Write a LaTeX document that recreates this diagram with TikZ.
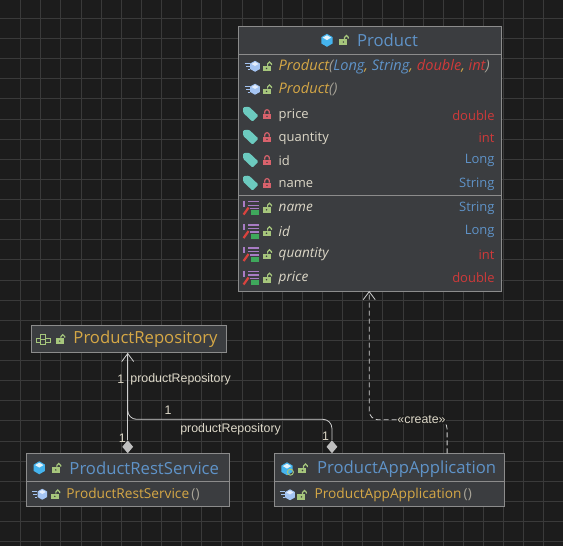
\documentclass[tikz,border=0pt]{standalone}
\usepackage{fontspec}
\setmainfont{Open Sans}
\newfontfamily\edgefont{Liberation Sans}
\usetikzlibrary{shapes.geometric,arrows.meta}
\definecolor{canvas}{HTML}{1C1C1C}
\definecolor{gridline}{HTML}{3A3A3A}
\definecolor{boxfill}{HTML}{3B3D40}
\definecolor{boxline}{HTML}{8C8C8C}
\definecolor{typeblue}{HTML}{5F93C8}
\definecolor{nameorange}{HTML}{D6A846}
\definecolor{typered}{HTML}{D03A3A}
\definecolor{fieldtext}{HTML}{DDD8C8}
\definecolor{parentext}{HTML}{A8A498}
\definecolor{edgeline}{HTML}{D0D0D0}
\definecolor{cubeblue}{HTML}{45B4EE}
\definecolor{cubepale}{HTML}{A4C4F2}
\definecolor{lockgreen}{HTML}{A6C67C}
\definecolor{lockred}{HTML}{D9626C}
\definecolor{tagteal}{HTML}{6CCABF}
\definecolor{propviolet}{HTML}{A87CC4}
\definecolor{propred}{HTML}{D8433E}
\definecolor{propgreen}{HTML}{3FA85C}
\tikzstyle{block} = [draw=boxline, fill=boxfill, rectangle, line width=.9pt, inner sep=0]
\tikzstyle{title} = [anchor=west, inner sep=0, font=\fontsize{16.7}{18}\selectfont]
\tikzstyle{member} = [anchor=west, inner sep=0, font=\fontsize{13.7}{15}\selectfont]
\tikzstyle{ctor} = [anchor=west, inner sep=0, text=nameorange, font=\fontsize{14.6}{15}\selectfont\itshape]
\tikzstyle{field} = [anchor=west, inner sep=0, text=fieldtext, font=\fontsize{13}{15}\selectfont]
\tikzstyle{prop} = [anchor=west, inner sep=0, text=fieldtext, font=\fontsize{13.6}{15}\selectfont\itshape]
\tikzstyle{kind} = [anchor=east, inner sep=0, font=\fontsize{13}{15}\selectfont]
\tikzstyle{edgelabel} = [inner sep=0, text=fieldtext, font=\edgefont\fontsize{12.4}{14}\selectfont]
\tikzstyle{ownerdiamond} = [draw=none, fill=lightgray, diamond, inner sep=0, minimum width=11pt, minimum height=13pt]
\tikzstyle{assoc} = [draw=edgeline, line width=.8pt, rounded corners=9pt]
\tikzstyle{depend} = [assoc, dashed, dash pattern=on 5pt off 3pt]
\tikzset{
  cubeicon/.pic={
    \fill[cubeblue] (0,-6.5)--(5.6,-3.2)--(5.6,3.2)--(0,6.5)--(-5.6,3.2)--(-5.6,-3.2)--cycle;
    \fill[white!85!cubeblue] (0,-5)--(4.2,-2.7)--(0,-.2)--(-4.2,-2.7)--cycle;
  },
  appicon/.pic={
    \fill[cubeblue] (0,-6.5)--(5.6,-3.2)--(5.6,3.2)--(0,6.5)--(-5.6,3.2)--(-5.6,-3.2)--cycle;
    \fill[white!85!cubeblue] (0,-5)--(4.2,-2.7)--(0,-.2)--(-4.2,-2.7)--cycle;
    \draw[lockgreen, line width=1pt] (3.4,3.4) circle (3);
  },
  ctoricon/.pic={
    \fill[cubepale] (3.5,-5.5)--(8.3,-2.8)--(8.3,2.8)--(3.5,5.5)--(-1.3,2.8)--(-1.3,-2.8)--cycle;
    \fill[white!70!cubepale] (3.5,-4.2)--(7,-2.3)--(3.5,-.3)--(0,-2.3)--cycle;
    \draw[cubepale, line width=1pt] (-7,-3)--(-2,-3) (-5.5,0)--(-2,0) (-4,3)--(-2,3);
  },
  lockopen/.pic={
    \fill[lockgreen] (-4.5,-.5) rectangle (3.5,5);
    \draw[lockgreen, line width=1.2pt] (.6,-.5)--(.6,-2.4) arc[start angle=180, end angle=360, radius=1.9]--(4.4,-1.2);
    \fill[boxfill] (-.5,2.2) circle (.8);
  },
  lockshut/.pic={
    \fill[lockred] (-4.2,-.5) rectangle (4.2,5);
    \draw[lockred, line width=1.2pt] (-2.3,-.5)--(-2.3,-2.2) arc[start angle=180, end angle=360, radius=2.3]--(2.3,-.5);
    \fill[boxfill] (0,2.2) circle (.8);
  },
  tagicon/.pic={
    \fill[tagteal, rounded corners=1.2pt] (-8,-7)--(-2,-7.5)--(7.5,1.5)--(1.5,7.5)--(-8,-1.5)--cycle;
  },
  propicon/.pic={
    \draw[propviolet, line width=1.2pt] (-3,-6)--(8,-6) (-3,-2.5)--(8,-2.5) (-1,1)--(8,1) (-7,-7)--(-7,-1);
    \draw[propred, line width=2.2pt] (-7.5,7)--(-2.5,0);
    \fill[propgreen] (0,2.5) rectangle (8,7.5);
  },
  ifaceicon/.pic={
    \draw[lockgreen, line width=1.1pt] (-2.5,-5) rectangle (2.5,0) (-7,-1) rectangle (-2.5,3.5) (-2.5,0) rectangle (2.5,5) (2.5,-1) rectangle (7,3.5);
  }
}

\begin{document}
\begin{tikzpicture}[x=1pt, y=-1pt, >={Straight Barb[length=8pt,width=12pt]}]
    \fill [canvas] (0,0) rectangle (563,546);
    \foreach \k in {1,...,27} \draw [gridline, line width=.7pt] (20.15*\k,0) -- (20.15*\k,546);
    \foreach \k in {0,...,26} \draw [gridline, line width=.7pt] (0,18+20.15*\k) -- (563,18+20.15*\k);

    \node [block, minimum width=263.5pt, minimum height=265pt] (product) at (370.25,158.5) {};
    \draw [boxline, line width=.9pt] (product.west |- 0,54.5) -- (product.east |- 0,54.5);
    \draw [boxline, line width=.9pt] (product.west |- 0,195.5) -- (product.east |- 0,195.5);
    \pic at (327,40) {cubeicon};
    \pic at (344,39.5) {lockopen};
    \node [title, text=typeblue] (productTitle) at (357,40) {Product};

    \pic at (251.5,66) {ctoricon};
    \pic at (267,66) {lockopen};
    \node [ctor] (ctorFull) at (278.5,66) {Product\textcolor{parentext}{(}\textcolor{typeblue}{Long}, \textcolor{typeblue}{String}, \textcolor{typered}{double}, \textcolor{typered}{int}\textcolor{parentext}{)}};
    \pic at (251.5,89) {ctoricon};
    \pic at (267,89) {lockopen};
    \node [ctor] (ctorEmpty) at (278.5,89) {Product\textcolor{parentext}{()}};

    \pic at (251,114) {tagicon};
    \pic at (267,114) {lockshut};
    \node [field] (fieldPrice) at (278.5,115) {price};
    \node [kind, text=typered] (fieldPriceType) at (495,115) {double};
    \pic at (251,137) {tagicon};
    \pic at (267,137) {lockshut};
    \node [field] (fieldQuantity) at (278.5,138) {quantity};
    \node [kind, text=typered] (fieldQuantityType) at (495,138) {int};
    \pic at (251,160) {tagicon};
    \pic at (267,160) {lockshut};
    \node [field] (fieldId) at (278.5,160.5) {id};
    \node [kind, text=typeblue] (fieldIdType) at (495,160.5) {Long};
    \pic at (251,183) {tagicon};
    \pic at (267,183) {lockshut};
    \node [field] (fieldName) at (278.5,184) {name};
    \node [kind, text=typeblue] (fieldNameType) at (495,184) {String};

    \pic at (251,207.5) {propicon};
    \pic at (267,207.5) {lockopen};
    \node [prop] (propName) at (278.5,208) {name};
    \node [kind, text=typeblue] (propNameType) at (495,208) {String};
    \pic at (251,231) {propicon};
    \pic at (267,231) {lockopen};
    \node [prop] (propId) at (278.5,231.5) {id};
    \node [kind, text=typeblue] (propIdType) at (495,231.5) {Long};
    \pic at (251,254) {propicon};
    \pic at (267,254) {lockopen};
    \node [prop] (propQuantity) at (278.5,254.5) {quantity};
    \node [kind, text=typered] (propQuantityType) at (495,254.5) {int};
    \pic at (251,277.5) {propicon};
    \pic at (267,277.5) {lockopen};
    \node [prop] (propPrice) at (278.5,278) {price};
    \node [kind, text=typered] (propPriceType) at (495,278) {double};

    \node [block, minimum width=195pt, minimum height=28pt] (repository) at (128.5,339) {};
    \pic at (43,339.5) {ifaceicon};
    \pic at (60,339) {lockopen};
    \node [title, text=nameorange] (repositoryTitle) at (73,339.5) {ProductRepository};

    \node [block, minimum width=202.5pt, minimum height=53.5pt] (restService) at (127.75,480.25) {};
    \draw [boxline, line width=.9pt] (restService.west |- 0,482) -- (restService.east |- 0,482);
    \pic at (39,468) {cubeicon};
    \pic at (56,468) {lockopen};
    \node [title, text=typeblue] (restServiceTitle) at (69,468) {ProductRestService};
    \pic at (38.5,494.5) {ctoricon};
    \pic at (55,494.5) {lockopen};
    \node [member, text=nameorange] (restServiceCtor) at (66,494.5) {ProductRestService\,\textcolor{parentext}{()}};

    \node [block, minimum width=231pt, minimum height=53.5pt] (appApplication) at (389.5,480.25) {};
    \draw [boxline, line width=.9pt] (appApplication.west |- 0,482) -- (appApplication.east |- 0,482);
    \pic at (287,469) {appicon};
    \pic at (303,468.5) {lockopen};
    \node [title, text=typeblue] (appApplicationTitle) at (317,469) {ProductAppApplication};
    \pic at (286.5,495) {ctoricon};
    \pic at (302,495) {lockopen};
    \node [member, text=nameorange] (appApplicationCtor) at (314.5,495) {ProductAppApplication\,\textcolor{parentext}{()}};

    \node [ownerdiamond] (restDiamond) at (127.5,447) {};
    \node [ownerdiamond] (appDiamond) at (332,447) {};
    \coordinate (repositoryEnd) at (127.5,353);
    \coordinate (repositoryBend) at (127.5,419.5);
    \coordinate (productEnd) at (369.3,291);
    \coordinate (productBend) at (369.3,420);
    \coordinate (appStart) at (447.3,453.5);
    \draw [assoc, ->] (restDiamond.north) -- (repositoryEnd);
    \draw [assoc] (appDiamond.north) |- (repositoryBend) -- (repositoryEnd);
    \draw [depend, ->] (appStart) |- (productBend) -- (productEnd);

    \node [edgelabel] (restSourceCount) at (122,438) {1};
    \node [edgelabel] (restTargetCount) at (120.5,379) {1};
    \node [edgelabel, anchor=west] (restRole) at (130,379) {productRepository};
    \node [edgelabel] (appTargetCount) at (168,410) {1};
    \node [edgelabel, anchor=west] (appRole) at (180,429) {productRepository};
    \node [edgelabel] (appSourceCount) at (325.5,436) {1};
    \node [edgelabel, fill=canvas, inner sep=.5pt] (createLabel) at (421.7,420) {«create»};
\end{tikzpicture}
\end{document}
